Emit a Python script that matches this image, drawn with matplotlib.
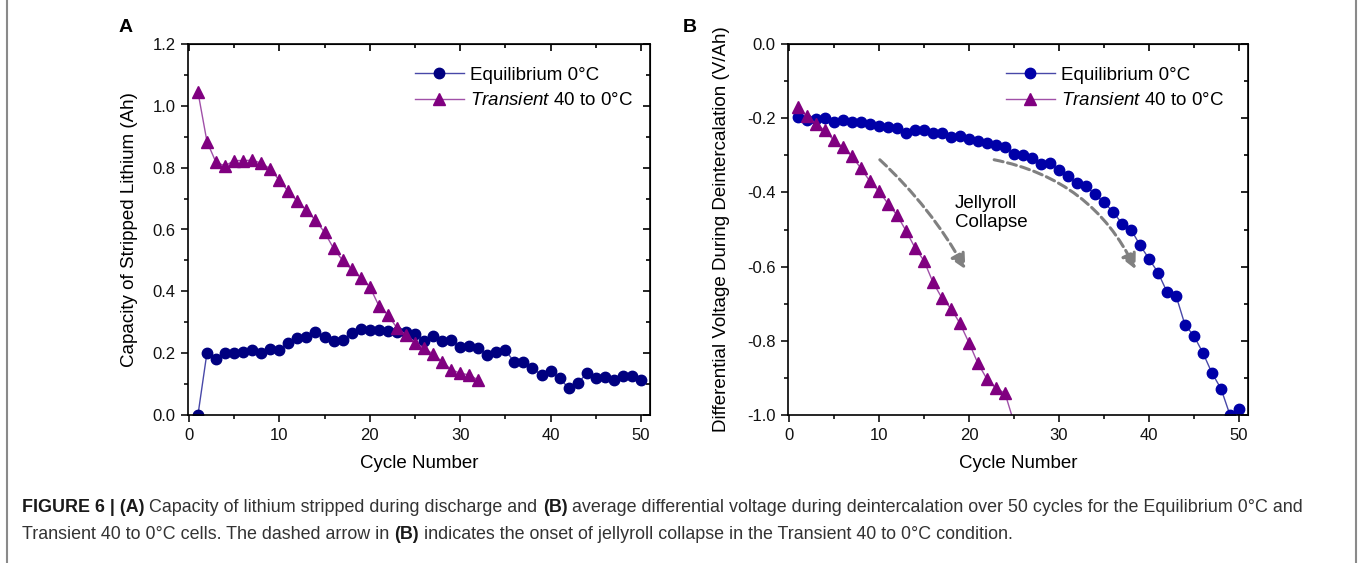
import matplotlib
matplotlib.use("Agg")
import matplotlib.pyplot as plt
from matplotlib.ticker import MultipleLocator, FormatStrFormatter
from matplotlib.lines import Line2D

plt.rcParams['font.family'] = ['Liberation Sans', 'DejaVu Sans']
plt.rcParams['mathtext.fontset'] = 'custom'
plt.rcParams['mathtext.rm'] = 'Liberation Sans'
plt.rcParams['mathtext.it'] = 'Liberation Sans:italic'

# ---- data ----
cycles_eq = list(range(1, 51))
cycles_tr_a = list(range(1, 33))
cycles_tr_b = list(range(1, 26))

stripped_eq = [0.0, 0.202, 0.18, 0.2, 0.2, 0.204, 0.21, 0.199, 0.215, 0.21,
               0.232, 0.25, 0.253, 0.267, 0.253, 0.24, 0.243, 0.265, 0.277, 0.275,
               0.275, 0.271, 0.269, 0.269, 0.263, 0.24, 0.254, 0.238, 0.242, 0.22,
               0.224, 0.217, 0.194, 0.205, 0.211, 0.17, 0.17, 0.152, 0.129, 0.143,
               0.119, 0.087, 0.102, 0.135, 0.121, 0.124, 0.114, 0.127, 0.125, 0.113]
stripped_tr = [1.045, 0.884, 0.817, 0.806, 0.823, 0.823, 0.824, 0.815, 0.796, 0.759,
               0.723, 0.691, 0.662, 0.630, 0.591, 0.539, 0.5, 0.471, 0.444, 0.415,
               0.354, 0.324, 0.282, 0.259, 0.234, 0.217, 0.197, 0.173, 0.147, 0.135,
               0.13, 0.113]

dv_eq = [-0.197, -0.206, -0.203, -0.2, -0.209, -0.205, -0.211, -0.211, -0.215, -0.22,
         -0.224, -0.227, -0.24, -0.232, -0.233, -0.241, -0.239, -0.25, -0.249, -0.256,
         -0.261, -0.268, -0.271, -0.277, -0.296, -0.299, -0.308, -0.323, -0.321, -0.34,
         -0.357, -0.374, -0.384, -0.405, -0.427, -0.452, -0.484, -0.5, -0.542, -0.579,
         -0.616, -0.668, -0.678, -0.757, -0.787, -0.833, -0.887, -0.929, -1.0, -0.984]
dv_tr = [-0.17, -0.195, -0.215, -0.233, -0.26, -0.278, -0.303, -0.335, -0.37, -0.397,
         -0.43, -0.461, -0.503, -0.549, -0.584, -0.642, -0.685, -0.713, -0.753, -0.805,
         -0.861, -0.903, -0.928, -0.941, -1.02]

label_eq = 'Equilibrium 0°C'
label_tr = r'$\it{Transient}$ 40 to 0°C'

W, H = 1362, 563
fig = plt.figure(figsize=(W / 100, H / 100), dpi=100)
fig.patch.set_facecolor('white')

FS = 13.5


def style_axes(ax, ylim, ymaj):
    ax.set_xlim(-0.1, 51)
    ax.set_ylim(*ylim)
    ax.xaxis.set_major_locator(MultipleLocator(10))
    ax.xaxis.set_minor_locator(MultipleLocator(5))
    ax.yaxis.set_major_locator(MultipleLocator(ymaj))
    ax.yaxis.set_minor_locator(MultipleLocator(ymaj / 2))
    ax.yaxis.set_major_formatter(FormatStrFormatter('%.1f'))
    ax.tick_params(which='both', direction='out', labelsize=12, width=1.2, colors='#111')
    ax.tick_params(which='major', length=5, pad=4)
    ax.tick_params(which='minor', length=3)
    ax.tick_params(which='both', top=False, right=False)
    for s in ax.spines.values():
        s.set_linewidth(1.2)
    # mirrored ticks pointing inward on top/right
    top = ax.secondary_xaxis('top')
    top.xaxis.set_major_locator(MultipleLocator(10))
    top.xaxis.set_minor_locator(MultipleLocator(5))
    top.tick_params(which='both', direction='in', labeltop=False, width=1.2)
    top.tick_params(which='major', length=5)
    top.tick_params(which='minor', length=3)
    right = ax.secondary_yaxis('right')
    right.yaxis.set_major_locator(MultipleLocator(ymaj))
    right.yaxis.set_minor_locator(MultipleLocator(ymaj / 2))
    right.tick_params(which='both', direction='in', labelright=False, width=1.2)
    right.tick_params(which='major', length=5)
    right.tick_params(which='minor', length=3)
    ax.set_xlabel('Cycle Number', fontsize=FS, labelpad=9)


leg_kw = dict(loc='upper right', frameon=False, fontsize=FS, handlelength=2.6,
              handletextpad=0.35, labelspacing=0.45)

# ---- panel A ----
axA = fig.add_axes([188 / W, 1 - 415 / H, 462 / W, 371 / H])
axA.plot(cycles_eq, stripped_eq, color='#4848a8', lw=1, marker='o', ms=7.5,
         mfc='#000080', mec='#000080', label=label_eq)
axA.plot(cycles_tr_a, stripped_tr, color='#a050a8', lw=1, marker='^', ms=8,
         mfc='#800080', mec='#800080', label=label_tr)
style_axes(axA, (0, 1.2), 0.2)
axA.set_ylabel('Capacity of Stripped Lithium (Ah)', fontsize=FS, labelpad=10)
axA.legend(bbox_to_anchor=(1.0, 0.985), **leg_kw)

# ---- panel B ----
axB = fig.add_axes([788 / W, 1 - 415 / H, 460 / W, 371 / H])
axB.plot(cycles_eq, dv_eq, color='#4848a8', lw=1, marker='o', ms=7.5,
         mfc='#0000a8', mec='#0000a8', label=label_eq)
axB.plot(cycles_tr_b, dv_tr, color='#a050a8', lw=1, marker='^', ms=8,
         mfc='#800080', mec='#800080', label=label_tr)
style_axes(axB, (-1.0, 0.0), 0.2)
axB.set_ylabel('Differential Voltage During Deintercalation (V/Ah)', fontsize=FS, labelpad=12)
axB.legend(bbox_to_anchor=(0.985, 0.985), **leg_kw)

arrow_kw = dict(arrowstyle='-|>,head_length=0.9,head_width=0.45', color='#808080',
                lw=2.2, linestyle=(0, (3, 1.5)), shrinkA=0, shrinkB=0)
axB.annotate('', xy=(19.6, -0.607), xytext=(10.1, -0.312),
             arrowprops=dict(connectionstyle='arc3,rad=-0.08', **arrow_kw))
axB.annotate('', xy=(38.5, -0.607), xytext=(22.8, -0.312),
             arrowprops=dict(connectionstyle='arc3,rad=-0.25', **arrow_kw))
axB.text(18.4, -0.455, 'Jellyroll\nCollapse', fontsize=FS, va='center', ha='left',
         linespacing=1.2)

# panel letters
fig.text(126 / W, 1 - 28 / H, 'A', fontsize=14, fontweight='bold', ha='center', va='center')
fig.text(690 / W, 1 - 28 / H, 'B', fontsize=14, fontweight='bold', ha='center', va='center')

# caption frame
for xf in (7 / W, 1356 / W):
    fig.add_artist(Line2D([xf, xf], [0, 1], color='#8a8a8a', lw=1.5))

# caption text laid out run by run, sized so line 1 fills the measured width
line1 = [('FIGURE 6 | (A)', 'bold'), (' Capacity of lithium stripped during discharge and ', 'normal'),
         ('(B)', 'bold'), (' average differential voltage during deintercalation over 50 cycles for the Equilibrium 0°C and', 'normal')]
line2 = [('Transient 40 to 0°C cells. The dashed arrow in ', 'normal'), ('(B)', 'bold'),
         (' indicates the onset of jellyroll collapse in the Transient 40 to 0°C condition.', 'normal')]

renderer = fig.canvas.get_renderer()


def run_width(runs, size):
    total = 0
    for txt, wt in runs:
        t = fig.text(0, 0, txt, fontsize=size, fontweight=wt)
        total += t.get_window_extent(renderer).width
        t.remove()
    return total


cap_size = 10 * 1286 / run_width(line1, 10)

for runs, ypix in ((line1, 512), (line2, 539)):
    x = 22
    for txt, wt in runs:
        t = fig.text(x / W, 1 - ypix / H, txt, fontsize=cap_size, fontweight=wt,
                     color='#1a1a1a' if wt == 'bold' else '#333333',
                     va='baseline', ha='left')
        x += t.get_window_extent(renderer).width

fig.savefig('out.png', dpi=100)
